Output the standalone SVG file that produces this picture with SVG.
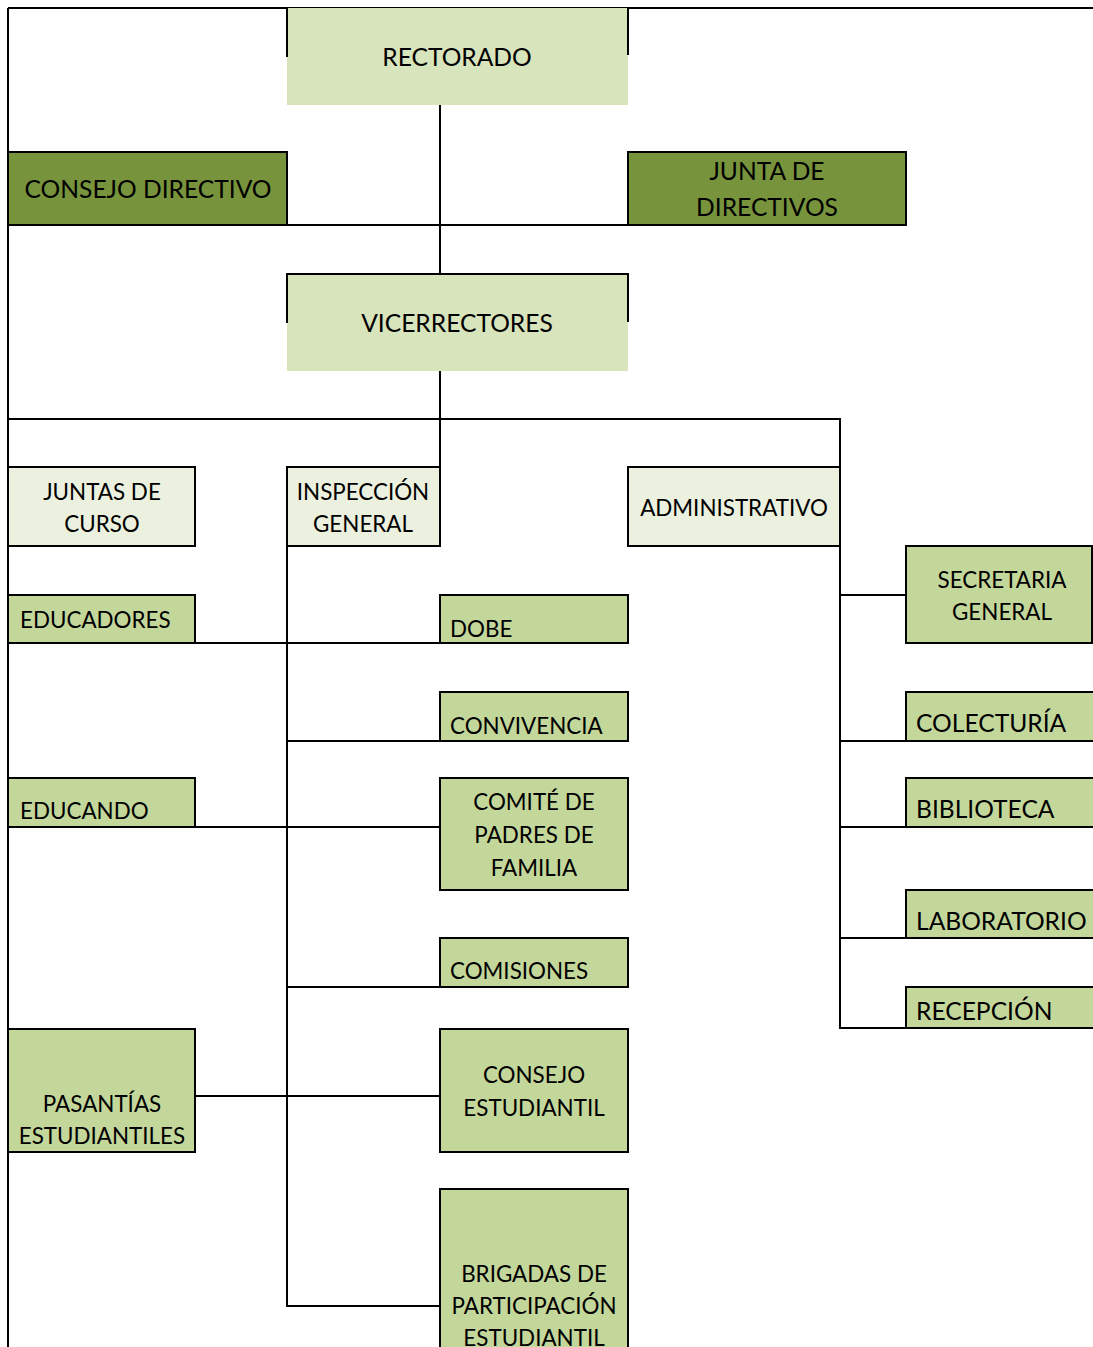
<svg xmlns="http://www.w3.org/2000/svg" width="1093" height="1347" viewBox="0 0 1093 1347">
<style>
.t{font-family:Lato,"Open Sans","Liberation Sans",sans-serif;fill:#000}
.c{text-anchor:middle}
.s20{font-size:22.4px}
.s22{font-size:24.6px}
.ln{stroke:#000;stroke-width:2;fill:none}
.lt{fill:#D8E4BC}
.dk{fill:#77933C;stroke:#000;stroke-width:2}
.pl{fill:#EBF1DE;stroke:#000;stroke-width:2}
.md{fill:#C4D79B;stroke:#000;stroke-width:2}
</style>
<rect width="1093" height="1347" fill="#fff"/>
<g id="connectors" class="ln">
<path d="M8 8H1093"/>
<path d="M8 8V1347"/>
<path d="M440 105V467"/>
<path d="M8 225H628"/>
<path d="M8 419H840V1028H906"/>
<path d="M287 546V1306H440"/>
<path d="M8 643H440"/>
<path d="M287 741H440"/>
<path d="M8 827H440"/>
<path d="M287 987H440"/>
<path d="M195 1096H440"/>
<path d="M840 595H906"/>
<path d="M840 741H906"/>
<path d="M840 827H906"/>
<path d="M840 938H906"/>
</g>
<g id="rectorado">
<rect class="lt" x="287" y="8" width="341" height="97"/>
<path class="ln" d="M287 8V57M628 8V55"/>
<text class="t c s22" x="457" y="66">RECTORADO</text>
</g>
<g id="consejo-directivo">
<rect class="dk" x="8" y="152" width="279" height="73"/>
<text class="t c s22" x="148" y="198">CONSEJO DIRECTIVO</text>
</g>
<g id="junta-directivos">
<rect class="dk" x="628" y="152" width="278" height="73"/>
<text class="t c s22" x="767" y="180">JUNTA DE</text>
<text class="t c s22" x="767" y="216">DIRECTIVOS</text>
</g>
<g id="vicerrectores">
<rect class="lt" x="287" y="274" width="341" height="97"/>
<path class="ln" d="M287 323V274H628V322"/>
<text class="t c s22" x="457" y="332">VICERRECTORES</text>
</g>
<g id="juntas-curso">
<rect class="pl" x="8" y="467" width="187" height="79"/>
<text class="t c s20" x="102" y="500">JUNTAS DE</text>
<text class="t c s20" x="102" y="532">CURSO</text>
</g>
<g id="inspeccion">
<rect class="pl" x="287" y="467" width="153" height="79"/>
<text class="t c s20" x="363" y="500">INSPECCIÓN</text>
<text class="t c s20" x="363" y="532">GENERAL</text>
</g>
<g id="administrativo">
<rect class="pl" x="628" y="467" width="212" height="79"/>
<text class="t c s20" x="734" y="516">ADMINISTRATIVO</text>
</g>
<g id="educadores">
<rect class="md" x="8" y="595" width="187" height="48"/>
<text class="t s20" x="20" y="628">EDUCADORES</text>
</g>
<g id="dobe">
<rect class="md" x="440" y="595" width="188" height="48"/>
<text class="t s20" x="450" y="637">DOBE</text>
</g>
<g id="convivencia">
<rect class="md" x="440" y="692" width="188" height="49"/>
<text class="t s20" x="450" y="734">CONVIVENCIA</text>
</g>
<g id="educando">
<rect class="md" x="8" y="778" width="187" height="49"/>
<text class="t s20" x="20" y="819">EDUCANDO</text>
</g>
<g id="comite">
<rect class="md" x="440" y="778" width="188" height="112"/>
<text class="t c s20" x="534" y="810">COMITÉ DE</text>
<text class="t c s20" x="534" y="843">PADRES DE</text>
<text class="t c s20" x="534" y="876">FAMILIA</text>
</g>
<g id="comisiones">
<rect class="md" x="440" y="938" width="188" height="49"/>
<text class="t s20" x="450" y="979">COMISIONES</text>
</g>
<g id="pasantias">
<rect class="md" x="8" y="1029" width="187" height="123"/>
<text class="t c s20" x="102" y="1112">PASANTÍAS</text>
<text class="t c s20" x="102" y="1144">ESTUDIANTILES</text>
</g>
<g id="consejo-estudiantil">
<rect class="md" x="440" y="1029" width="188" height="123"/>
<text class="t c s20" x="534" y="1083">CONSEJO</text>
<text class="t c s20" x="534" y="1116">ESTUDIANTIL</text>
</g>
<g id="brigadas">
<rect class="md" x="440" y="1189" width="188" height="170"/>
<text class="t c s20" x="534" y="1282">BRIGADAS DE</text>
<text class="t c s20" x="534" y="1314">PARTICIPACIÓN</text>
<text class="t c s20" x="534" y="1346">ESTUDIANTIL</text>
</g>
<g id="secretaria">
<rect class="md" x="906" y="546" width="186" height="97"/>
<text class="t c s20" x="1002" y="588">SECRETARIA</text>
<text class="t c s20" x="1002" y="620">GENERAL</text>
</g>
<g id="colecturia">
<rect class="md" x="906" y="692" width="200" height="49"/>
<text class="t s22" x="916" y="732">COLECTURÍA</text>
</g>
<g id="biblioteca">
<rect class="md" x="906" y="778" width="200" height="49"/>
<text class="t s22" x="916" y="818">BIBLIOTECA</text>
</g>
<g id="laboratorio">
<rect class="md" x="906" y="890" width="200" height="48"/>
<text class="t s22" x="916" y="930">LABORATORIO</text>
</g>
<g id="recepcion">
<rect class="md" x="906" y="987" width="200" height="41"/>
<text class="t s22" x="916" y="1020">RECEPCIÓN</text>
</g>
</svg>
